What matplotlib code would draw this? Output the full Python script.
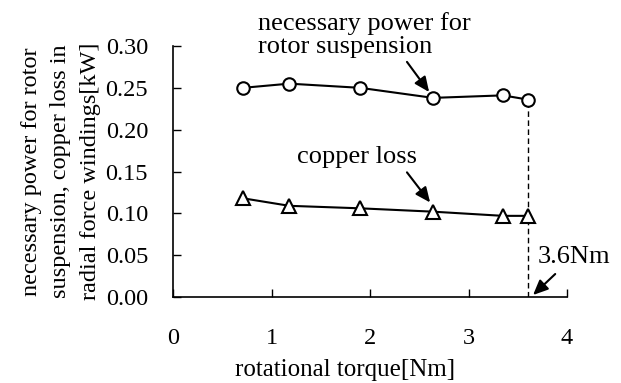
import matplotlib
matplotlib.use("Agg")
import matplotlib.pyplot as plt

plt.rcParams['font.family'] = ['Liberation Serif', 'DejaVu Serif']

torque = [0.71, 1.18, 1.90, 2.64, 3.35, 3.60]
susp_power = [0.250, 0.255, 0.250, 0.238, 0.241, 0.236]
copper_loss = [0.118, 0.109, 0.106, 0.102, 0.097, 0.097]

fig = plt.figure(figsize=(6.21, 3.83), dpi=100)
ax = fig.add_axes([0.2786, 0.2245, 0.6345, 0.6554])

ax.plot(torque, susp_power, color='black', lw=1.5, marker='o', ms=9,
        mfc='white', mec='black', mew=1.5, clip_on=False)
ax.plot(torque, copper_loss, color='black', lw=1.5, marker='^', ms=10,
        mfc='white', mec='black', mew=1.5, clip_on=False)
ax.plot([torque[-1], torque[-1]], [0, susp_power[-1]], color='black',
        lw=1, ls=(0, (4, 2.5)), zorder=1)

ax.set_xlim(0, 4)
ax.set_ylim(0, 0.30)
ax.set_xticks([0, 1, 2, 3, 4])
ax.set_yticks([0, 0.05, 0.10, 0.15, 0.20, 0.25, 0.30])
ax.set_yticklabels(['0.00', '0.05', '0.10', '0.15', '0.20', '0.25', '0.30'])
ax.tick_params(direction='in', length=6, width=1, labelsize=17.5,
               colors='black')
ax.tick_params(axis='y', pad=18)
ax.tick_params(axis='x', pad=22)
for s in ['top', 'right']:
    ax.spines[s].set_visible(False)
for s in ['left', 'bottom']:
    ax.spines[s].set_linewidth(1.2)

ax.set_xlabel('rotational torque[Nm]', fontsize=18)
ax.xaxis.set_label_coords(0.437, -0.245)
ax.set_ylabel('necessary power for rotor\nsuspension, copper loss in\nradial force windings[kW]',
              fontsize=17.5, linespacing=1.55, labelpad=3)

arrow = dict(arrowstyle='-|>,head_length=0.45,head_width=0.2', color='black',
             lw=1.5, mutation_scale=20, shrinkA=0, shrinkB=0)
ax.text(0.863, 0.319, 'necessary power for', fontsize=19, ha='left', va='baseline',
        clip_on=False)
ax.text(0.863, 0.2916, 'rotor suspension', fontsize=19, ha='left', va='baseline',
        clip_on=False)
ax.annotate('', xy=(2.60, 0.245), xytext=(2.375, 0.281),
            arrowprops=arrow, annotation_clip=False)
ax.text(1.87, 0.167, 'copper loss', fontsize=19, ha='center', va='center')
ax.annotate('', xy=(2.61, 0.113), xytext=(2.375, 0.149),
            arrowprops=arrow)
ax.text(4.07, 0.048, '3.6Nm', fontsize=19, ha='center', va='center',
        clip_on=False)
ax.annotate('', xy=(3.655, 0.0024), xytext=(3.88, 0.0275),
            arrowprops=arrow, annotation_clip=False)

fig.savefig('out.png', dpi=100)
